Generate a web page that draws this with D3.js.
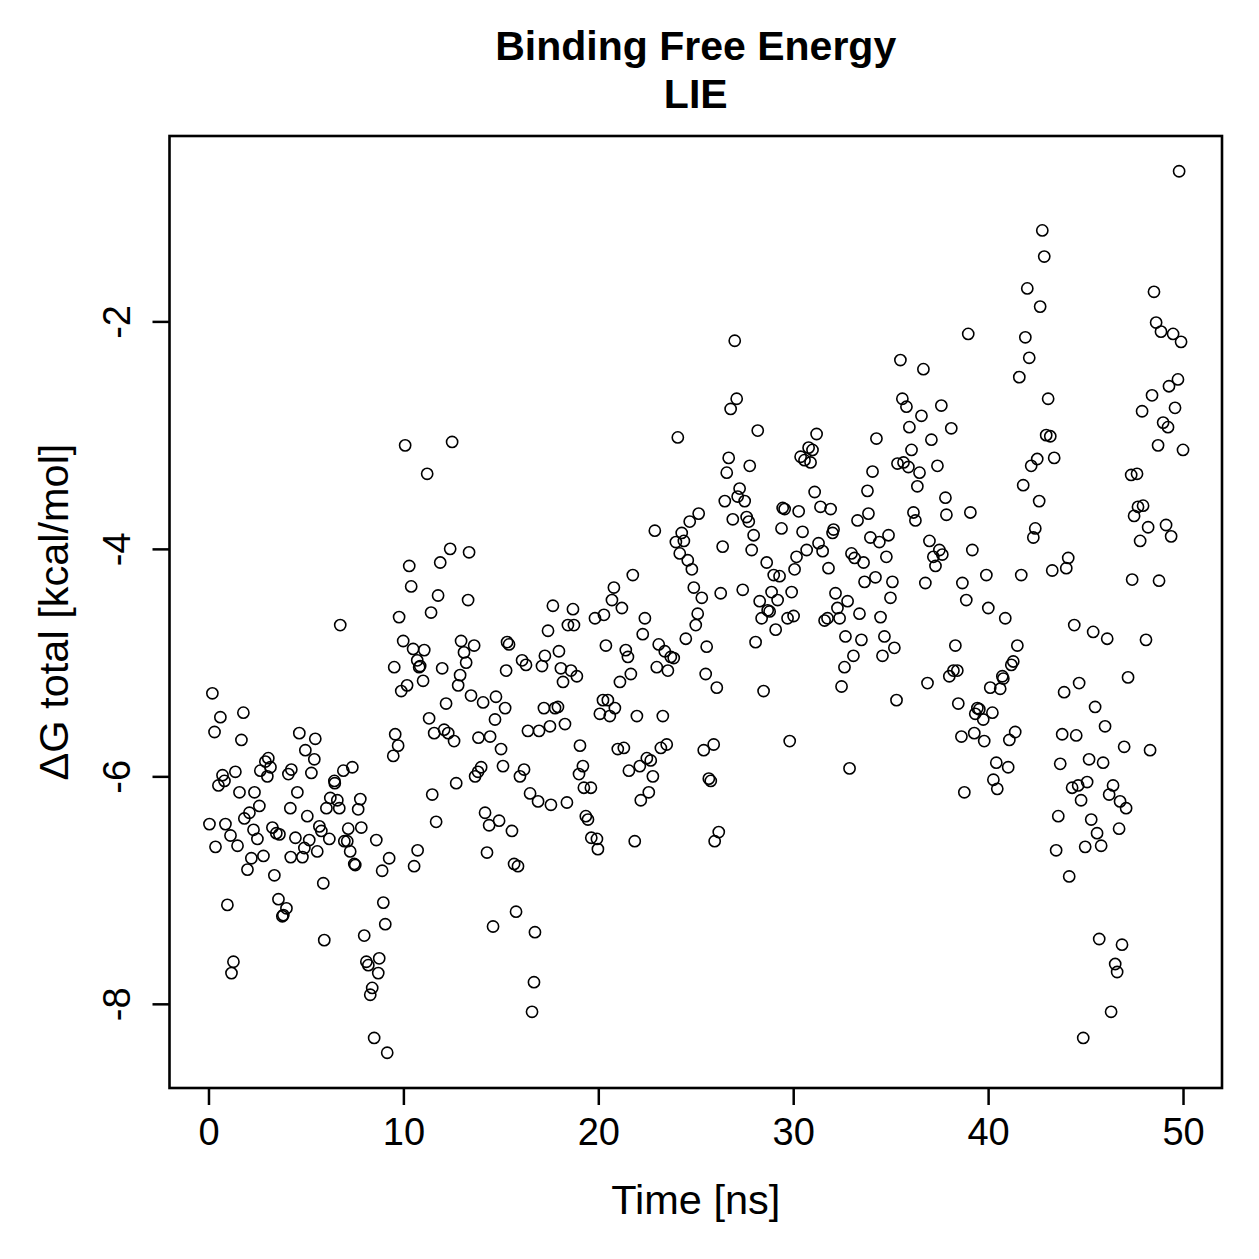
<!DOCTYPE html>
<html>
<head>
<meta charset="utf-8">
<script src="https://cdn.jsdelivr.net/npm/d3@7"></script>
<style>
  html, body { margin: 0; padding: 0; background: #ffffff; }
  svg { display: block; }
  text { font-family: "Liberation Sans", Arial, Helvetica, sans-serif; fill: #000; }
</style>
</head>
<body>
<svg id="chart" width="1259" height="1259"></svg>
<script>
// ---- data ----
const time = [
  0.05,0.20,0.31,0.36,0.51,0.61,0.72,0.82,0.87,0.97,1.13,1.18,1.28,1.38,1.49,1.59,1.69,1.79,1.84,2.00,
  2.10,2.20,2.31,2.36,2.51,2.61,2.66,2.82,2.92,3.02,3.07,3.18,3.28,3.38,3.48,3.59,3.64,3.79,3.84,4.00,
  4.10,4.20,4.22,4.25,4.46,4.56,4.66,4.82,4.92,4.97,5.07,5.17,5.28,5.43,5.48,5.58,5.69,5.79,5.89,5.94,
  6.05,6.20,6.25,6.46,6.48,6.61,6.71,6.76,6.92,6.97,7.12,7.17,7.27,7.38,7.48,7.53,7.68,7.79,7.84,7.99,
  8.10,8.20,8.30,8.40,8.50,8.61,8.71,8.76,8.91,8.97,9.07,9.17,9.27,
  9.48,9.53,9.58,9.73,9.78,9.89,9.99,10.09,10.19,10.30,10.40,10.50,10.55,10.71,10.73,10.81,10.86,11.01,11.07,11.22,
  11.32,11.42,11.48,11.58,11.68,11.78,11.89,11.99,12.09,12.19,12.30,12.40,12.50,12.60,12.71,12.81,12.91,12.96,13.11,13.22,
  13.32,13.37,13.47,13.63,13.68,13.83,13.85,13.99,14.09,14.19,14.29,14.40,14.45,14.60,14.70,14.75,14.91,15.01,15.11,15.22,
  15.27,15.32,15.42,15.57,15.68,15.78,15.88,15.98,16.09,16.19,16.29,16.39,16.50,16.60,16.70,16.75,16.91,16.96,17.11,17.21,
  17.26,17.42,17.52,17.57,17.67,17.78,17.93,17.98,18.08,18.19,18.29,18.39,18.44,18.60,18.70,18.75,18.90,19.01,19.06,19.21,
  19.26,19.36,19.47,
  19.62,19.64,19.83,19.93,19.98,20.08,20.24,20.29,20.39,20.49,20.59,20.70,20.80,20.85,21.00,21.11,21.21,21.31,21.41,21.52,
  21.57,21.67,21.77,21.87,21.98,22.13,22.18,22.28,22.39,22.49,22.59,22.69,22.80,22.90,23.00,23.10,23.21,23.31,23.41,23.51,
  23.57,23.72,23.87,23.98,24.08,24.18,24.28,24.39,24.49,24.59,24.69,24.80,24.90,25.00,25.10,25.15,25.31,25.41,25.51,25.56,
  25.67,25.77,25.92,25.97,26.08,26.18,26.28,26.38,26.49,26.59,26.69,26.79,26.90,27.00,27.10,27.15,27.25,27.41,27.51,27.61,
  27.72,27.77,27.87,27.97,28.07,28.18,28.28,28.38,28.48,28.64,28.69,28.79,28.89,29.00,29.10,29.20,29.30,29.40,29.46,29.56,
  29.71,29.82,29.92,30.02,30.07,30.17,30.28,30.38,30.48,30.58,30.69,30.79,30.89,30.99,31.10,31.20,31.30,31.40,31.51,31.61,
  31.76,31.81,31.92,32.02,32.07,32.17,32.27,32.38,32.48,32.63,32.68,32.79,32.89,32.99,33.09,33.15,33.30,33.40,33.50,33.61,
  33.66,33.81,33.86,33.96,34.07,34.22,34.27,34.42,34.48,34.58,34.68,34.78,34.89,34.99,35.09,35.19,35.30,35.35,35.50,35.60,
  35.66,35.81,35.91,35.96,36.07,36.17,36.27,36.37,36.48,36.58,36.68,36.78,36.89,36.99,37.09,37.19,37.30,37.40,37.50,37.60,
  37.65,37.81,37.86,38.01,38.11,38.22,38.32,38.42,38.47,38.63,38.68,38.78,38.88,38.98,39.09,39.19,39.29,39.34,39.45,39.55,
  39.75,39.80,39.91,40.01,40.11,40.22,40.27,40.42,40.47,40.62,40.73,40.78,40.88,41.03,41.09,41.19,41.29,41.39,41.50,41.60,
  41.70,41.80,41.91,42.01,42.11,42.21,42.32,42.42,42.52,42.62,42.67,42.78,42.88,42.98,43.08,43.19,43.29,43.39,43.49,43.60,
  43.70,43.80,43.90,44.01,44.11,44.16,44.31,44.42,44.52,44.62,44.67,44.77,44.88,44.98,45.08,45.18,45.29,45.39,45.49,45.59,
  45.70,45.80,45.90,46.00,46.11,46.21,46.31,46.41,46.52,46.62,46.72,46.77,46.87,46.98,47.08,47.18,47.34,47.39,47.49,47.64,
  47.69,47.80,47.90,47.95,48.10,48.21,48.31,48.41,48.51,48.62,48.72,48.77,48.87,48.98,49.13,49.23,49.28,49.39,49.49,49.59,
  49.74,49.80,49.90,50.00
];
const dG = [
  -6.42,-5.27,-5.61,-6.62,-6.08,-5.48,-5.99,-6.04,-6.42,-7.13,-6.52,-7.73,-7.63,-5.96,-6.61,-6.14,-5.68,-5.44,-6.37,-6.82,
  -6.32,-6.72,-6.47,-6.14,-6.55,-6.26,-5.95,-6.70,-5.87,-6.00,-5.84,-5.92,-6.45,-6.87,-6.50,-7.08,-6.51,-7.23,-7.22,-7.16,
  -5.98,-6.28,-6.71,-5.94,-6.54,-6.14,-5.62,-6.71,-6.63,-5.77,-6.35,-6.56,-5.97,-5.85,-5.67,-6.66,-6.44,-6.48,-6.94,-7.44,
  -6.28,-6.55,-6.19,-6.04,-6.06,-6.21,-6.28,-4.67,-5.95,-6.57,-6.57,-6.46,-6.66,-5.92,-6.77,-6.78,-6.29,-6.20,-6.45,-7.40,
  -7.63,-7.66,-7.92,-7.86,-8.30,-6.56,-7.73,-7.60,-6.83,-7.11,-7.30,-8.43,-6.72,
  -5.82,-5.04,-5.63,-5.73,-4.60,-5.25,-4.81,-3.09,-5.20,-4.15,-4.33,-4.88,-6.79,-4.98,-6.65,-5.04,-5.03,-5.16,-4.89,-3.34,
  -5.49,-4.56,-6.16,-5.62,-6.40,-4.41,-4.12,-5.05,-5.59,-5.36,-5.62,-4.00,-3.06,-5.69,-6.06,-5.20,-5.11,-4.81,-4.91,-5.00,
  -4.45,-4.03,-5.29,-4.85,-6.00,-5.96,-5.66,-5.92,-5.35,-6.32,-6.67,-6.43,-5.65,-7.32,-5.50,-5.30,-6.39,-5.76,-5.91,-5.40,
  -5.07,-4.82,-4.84,-6.48,-6.77,-7.19,-6.79,-6.00,-4.98,-5.94,-5.02,-5.60,-6.15,-8.07,-7.81,-7.37,-6.22,-5.60,-5.03,-5.40,
  -4.94,-4.72,-5.56,-6.25,-4.50,-5.40,-5.39,-4.90,-5.05,-5.17,-5.54,-6.23,-4.67,-5.07,-4.53,-4.67,-5.12,-5.98,-5.73,-5.91,
  -6.10,-6.35,-6.38,
  -6.10,-6.54,-4.61,-6.55,-6.64,-5.45,-5.33,-4.58,-4.85,-5.33,-5.47,-4.45,-4.34,-5.40,-5.76,-5.17,-4.52,-5.75,-4.89,-4.95,
  -5.95,-5.10,-4.23,-6.57,-5.47,-5.91,-6.21,-4.75,-4.61,-5.84,-6.14,-5.86,-6.00,-3.84,-5.04,-4.84,-5.75,-5.47,-4.90,-5.72,
  -5.07,-4.95,-4.96,-3.94,-3.02,-4.04,-3.86,-3.93,-4.79,-4.10,-3.76,-4.18,-4.34,-4.67,-4.57,-3.69,-4.43,-5.77,-5.10,-4.86,
  -6.02,-6.04,-5.72,-6.57,-5.22,-6.49,-4.39,-3.98,-3.58,-3.33,-3.20,-2.77,-3.74,-2.17,-2.68,-3.54,-3.47,-4.36,-3.58,-3.72,
  -3.76,-3.27,-4.01,-3.88,-4.82,-2.96,-4.46,-4.61,-5.25,-4.12,-4.54,-4.55,-4.38,-4.23,-4.71,-4.45,-4.24,-3.82,-3.64,-3.65,
  -4.61,-5.69,-4.38,-4.59,-4.18,-4.07,-3.67,-3.19,-3.85,-3.22,-4.01,-3.11,-3.24,-3.13,-3.50,-2.99,-3.95,-3.63,-4.02,-4.63,
  -4.61,-4.17,-3.65,-3.86,-3.83,-4.39,-4.52,-4.61,-5.21,-5.04,-4.77,-4.46,-5.93,-4.04,-4.94,-4.08,-3.75,-4.57,-4.80,-4.12,
  -4.29,-3.49,-3.69,-3.90,-3.32,-4.25,-3.03,-3.94,-4.60,-4.94,-4.77,-4.07,-3.88,-4.43,-4.29,-4.87,-5.33,-3.25,-2.34,-2.68,
  -3.24,-2.75,-3.28,-2.93,-3.13,-3.68,-3.75,-3.45,-3.33,-2.83,-2.42,-4.30,-5.18,-3.93,-3.04,-4.07,-4.15,-3.27,-4.01,-2.74,
  -4.05,-3.55,-3.70,-5.12,-2.94,-5.07,-4.85,-5.07,-5.36,-5.65,-4.30,-6.14,-4.45,-2.11,-3.68,-4.01,-5.62,-5.45,-5.40,-5.41,
  -5.50,-5.69,-4.23,-4.52,-5.22,-5.44,-6.03,-5.88,-6.11,-5.23,-5.12,-5.14,-4.61,-5.92,-5.68,-5.02,-4.99,-5.61,-4.85,-2.49,
  -4.23,-3.44,-2.14,-1.71,-2.32,-3.27,-3.90,-3.82,-3.21,-3.58,-1.87,-1.20,-1.43,-3.00,-2.68,-3.01,-4.19,-3.20,-6.65,-6.35,
  -5.89,-5.63,-5.26,-4.17,-4.08,-6.88,-6.10,-4.67,-5.64,-6.08,-5.18,-6.21,-8.30,-6.62,-6.05,-5.85,-6.38,-4.73,-5.39,-6.50,
  -7.43,-6.61,-5.88,-5.56,-4.79,-6.16,-8.07,-6.08,-7.65,-7.72,-6.46,-6.22,-7.48,-5.74,-6.28,-5.13,-3.35,-4.27,-3.71,-3.34,
  -3.63,-3.93,-2.79,-3.62,-4.80,-3.81,-5.77,-2.65,-1.74,-2.01,-3.09,-4.28,-2.09,-2.89,-3.79,-2.93,-2.57,-3.89,-2.11,-2.76,
  -2.51,-0.68,-2.18,-3.13
];
const xTicks = [0, 10, 20, 30, 40, 50];
const yTicks = [-8, -6, -4, -2];
const titleLines = ["Binding Free Energy", "LIE"];
const xLabel = "Time [ns]";
const yLabel = "\u0394G total [kcal/mol]";

// ---- drawing ----
const n = Math.min(time.length, dG.length);
const points = d3.range(n).map(i => ({ t: time[i], g: dG[i] }));

const svg = d3.select("#chart");
svg.append("rect").attr("width", 1259).attr("height", 1259).attr("fill", "#fff");

const plot = { left: 169.5, right: 1222, top: 136, bottom: 1088 };
const x = d3.scaleLinear().domain([-2, 52]).range([plot.left, plot.right]);
const y = d3.scaleLinear().domain([-8.74, -0.37]).range([plot.bottom, plot.top]);

// points
svg.append("g")
  .selectAll("circle")
  .data(points)
  .join("circle")
  .attr("cx", d => x(d.t))
  .attr("cy", d => y(d.g))
  .attr("r", 5.6)
  .attr("fill", "none")
  .attr("stroke", "#000")
  .attr("stroke-width", 1.6);

// x axis
const gx = svg.append("g")
  .attr("transform", `translate(0,${plot.bottom})`)
  .call(d3.axisBottom(x).tickValues(xTicks).tickSize(17).tickPadding(13).tickFormat(d3.format("d")));
gx.select(".domain").remove();
gx.selectAll(".tick line").attr("stroke", "#000").attr("stroke-width", 2.5);
gx.selectAll(".tick text").attr("font-size", 38).attr("fill", "#000")
  .style("font-family", "'Liberation Sans', Arial, sans-serif")
  .text(d => d3.format("d")(d));

// y axis
const gy = svg.append("g")
  .attr("transform", `translate(${plot.left},0)`)
  .call(d3.axisLeft(y).tickValues(yTicks).tickSize(17).tickFormat(d3.format("d")));
gy.select(".domain").remove();
gy.selectAll(".tick line").attr("stroke", "#000").attr("stroke-width", 2.5);
gy.selectAll(".tick text")
  .attr("x", null).attr("dy", null)
  .attr("text-anchor", "middle")
  .attr("transform", "translate(-39.5,0) rotate(-90)")
  .attr("font-size", 38).attr("fill", "#000")
  .style("font-family", "'Liberation Sans', Arial, sans-serif")
  .text(d => d3.format("d")(d).replace("\u2212", "-"));

// box
svg.append("rect")
  .attr("x", plot.left).attr("y", plot.top)
  .attr("width", plot.right - plot.left).attr("height", plot.bottom - plot.top)
  .attr("fill", "none").attr("stroke", "#000").attr("stroke-width", 2.6);

// titles
const cx = (plot.left + plot.right) / 2;
svg.append("text").attr("x", cx).attr("y", 60).attr("text-anchor", "middle")
  .attr("font-size", 41).attr("font-weight", "bold").text(titleLines[0]);
svg.append("text").attr("x", cx).attr("y", 108).attr("text-anchor", "middle")
  .attr("font-size", 41).attr("font-weight", "bold").text(titleLines[1]);

// axis labels
svg.append("text").attr("x", cx).attr("y", 1214).attr("text-anchor", "middle")
  .attr("font-size", 41.5).text(xLabel);
svg.append("text").attr("text-anchor", "middle")
  .attr("transform", `translate(68,${(plot.top + plot.bottom) / 2}) rotate(-90)`)
  .attr("font-size", 41.5).text(yLabel);
</script>
</body>
</html>
